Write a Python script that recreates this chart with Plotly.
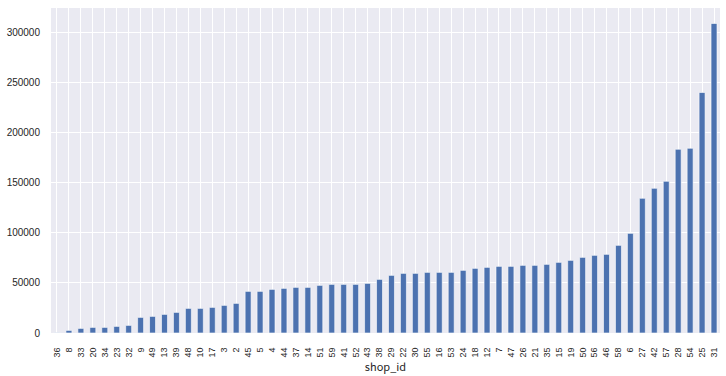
import plotly.graph_objects as go

shop_ids = ["36", "8", "33", "20", "34", "23", "32", "9", "49", "13", "39", "48", "10", "17",
            "3", "2", "45", "5", "4", "44", "37", "14", "51", "59", "41", "52", "43", "38",
            "29", "22", "30", "55", "16", "53", "24", "18", "12", "7", "47", "26", "21", "35",
            "15", "19", "50", "56", "46", "58", "6", "27", "42", "57", "28", "54", "25", "31"]

sales = [300, 2600, 4600, 5600, 5600, 6600, 7600, 15600, 16600, 18600, 20600, 24600, 24600, 25600,
         27600, 29600, 41600, 41600, 43600, 44600, 45600, 45600, 47600, 48600, 48600, 48600, 49600, 53600,
         57600, 59600, 59600, 60600, 60600, 60600, 62600, 64600, 65600, 66600, 66600, 67600, 67600, 68600,
         70600, 72600, 75600, 77600, 78600, 87600, 99600, 134600, 144600, 151600, 183600, 184600, 240300, 309300]

y_ticks = [0, 50000, 100000, 150000, 200000, 250000, 300000]

fig = go.Figure(go.Bar(
    x=shop_ids, y=sales,
    width=0.5,
    marker=dict(color="#4C72B0", line=dict(color="white", width=0.6)),
))

fig.update_layout(
    width=726, height=376,
    margin=dict(l=51, r=6, t=8, b=43, autoexpand=False),
    plot_bgcolor="#EAEAF2",
    paper_bgcolor="white",
    showlegend=False,
    font=dict(family="Liberation Sans, Arial, sans-serif", size=10, color="#262626"),
)

fig.update_xaxes(
    type="category",
    categoryorder="array", categoryarray=shop_ids,
    range=[-0.5, len(shop_ids) - 0.5],
    tickmode="linear", dtick=1, tick0=0,
    tickangle=-90,
    automargin=False,
    showgrid=True, gridcolor="white", gridwidth=1.2,
    zeroline=False, showline=False,
    ticks="outside", ticklen=10, tickcolor="rgba(0,0,0,0)",
    tickfont=dict(size=9, color="#262626"),
    title=dict(text="shop_id", font=dict(family="Noto Sans CJK SC, sans-serif", size=11, color="#262626"), standoff=2),
)

fig.update_yaxes(
    range=[0, max(sales) * 1.05],
    tickvals=y_ticks,
    ticktext=[str(v) for v in y_ticks],
    automargin=False,
    showgrid=True, gridcolor="white", gridwidth=1.2,
    zeroline=False, showline=False,
    ticks="outside", ticklen=8, tickcolor="rgba(0,0,0,0)",
    tickfont=dict(size=10, color="#262626"),
)

fig.write_html("out.html", config={"displayModeBar": False},
               post_script="document.body.style.margin='0';document.body.style.padding='0';")
